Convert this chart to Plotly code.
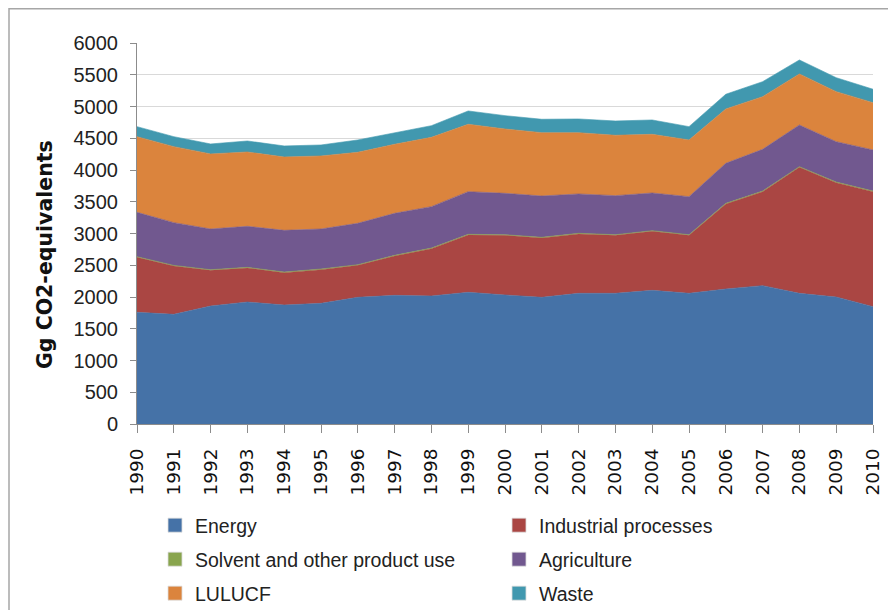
import plotly.graph_objects as go

years = [str(y) for y in range(1990, 2011)]

energy = [1759, 1727, 1858, 1921, 1874, 1900, 1995, 2026, 2016, 2074, 2032,
          1995, 2058, 2058, 2105, 2058, 2126, 2179, 2058, 2000, 1848]
industrial = [866, 761, 562, 536, 509, 531, 504, 620, 745, 903, 939,
              935, 935, 913, 930, 913, 1339, 1480, 1985, 1801, 1811]
solvent = [10, 10, 10, 10, 10, 10, 10, 10, 10, 10, 10,
           10, 10, 10, 10, 10, 10, 10, 10, 10, 10]
agriculture = [699, 673, 641, 646, 657, 630, 652, 662, 652, 672, 652,
               651, 620, 615, 593, 599, 631, 657, 656, 635, 647]
lulucf = [1191, 1197, 1182, 1171, 1155, 1150, 1118, 1087, 1092, 1061, 1013,
          997, 965, 951, 924, 893, 855, 829, 804, 788, 745]
waste = [158, 157, 157, 173, 174, 173, 194, 183, 183, 210, 210,
         211, 216, 225, 226, 210, 232, 236, 220, 220, 211]

series = [
    ("Energy", energy, "#4572A7"),
    ("Industrial processes", industrial, "#AA4643"),
    ("Solvent and other product use", solvent, "#89A54E"),
    ("Agriculture", agriculture, "#71588F"),
    ("LULUCF", lulucf, "#DB843D"),
    ("Waste", waste, "#4198AF"),
]
legend_rows = ["legend", "legend", "legend2", "legend2", "legend3", "legend3"]

fig = go.Figure()
for name, vals, col in series:
    fig.add_trace(go.Scatter(
        x=years, y=vals, name=name, mode="lines", stackgroup="one",
        line=dict(width=0.6, color=col), fillcolor=col, showlegend=False,
    ))
# legend-only entries with square swatches
for (name, vals, col), lg in zip(series, legend_rows):
    fig.add_trace(go.Scatter(
        x=[None], y=[None], name=name, mode="markers", legend=lg,
        marker=dict(symbol="square", size=14, color=col,
                    line=dict(width=0.8, color="#dddddd")),
        showlegend=True,
    ))

OFF = 8  # page offset of the figure inside the browser window
W, H = 896, 610
ml, pw, mt, ph = 137 - OFF, 736, 43 - OFF, 381
mr = W - ml - pw
mb = H - mt - ph

def px(x):
    return (x - OFF - ml) / pw

def py(y):
    return (H - mb - (y - OFF)) / ph

font_main = "Liberation Sans, Arial, sans-serif"
leg_common = dict(
    orientation="h", xanchor="left", yanchor="top",
    entrywidth=299, entrywidthmode="pixels",
    font=dict(size=19.5, family=font_main, color="#222222"),
    traceorder="normal", itemwidth=30, bgcolor="rgba(0,0,0,0)",
)

fig.update_layout(
    width=W, height=H,
    margin=dict(l=ml, r=mr, t=mt, b=mb, autoexpand=False),
    paper_bgcolor="white", plot_bgcolor="white",
    font=dict(family=font_main, color="#222222"),
    legend=dict(x=px(155), y=py(506), **leg_common),
    legend2=dict(x=px(155), y=py(540), **leg_common),
    legend3=dict(x=px(155), y=py(574), **leg_common),
    xaxis=dict(
        type="category", range=[0, 20], showgrid=False,
        showline=True, linecolor="#8c8c8c", linewidth=1,
        ticks="outside", ticklen=8, tickcolor="#8c8c8c",
        tickangle=-90, tickfont=dict(size=18.5, family="DejaVu Sans", color="#111111"),
        ticklabelstandoff=8, zeroline=False,
    ),
    yaxis=dict(
        range=[0, 6000], dtick=500, showgrid=True, gridcolor="#d9d9d9",
        gridwidth=1.2, showline=True, linecolor="#8c8c8c", linewidth=1,
        ticks="outside", ticklen=6, tickcolor="#8c8c8c",
        tickfont=dict(size=20, family=font_main, color="#222222"),
        ticklabelstandoff=8, zeroline=False,
    ),
    annotations=[dict(
        text="<b>Gg CO2-equivalents</b>", x=px(45), y=py(255),
        xref="paper", yref="paper", textangle=-90, showarrow=False,
        font=dict(size=20.5, family="DejaVu Sans, sans-serif", color="#111111"),
        xanchor="center", yanchor="middle",
    )],
    shapes=[dict(
        type="rect", xref="paper", yref="paper",
        x0=px(9), x1=px(920), y0=py(640), y1=py(8.8),
        line=dict(color="#a6a6a6", width=1.5), layer="below",
    )],
)

fig.write_html("out.html")
